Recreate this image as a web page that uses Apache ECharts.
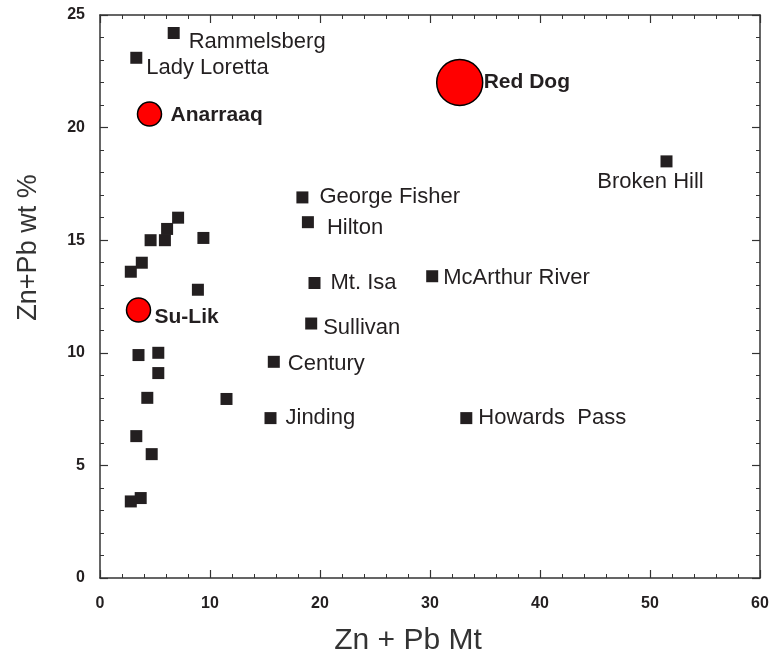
<!DOCTYPE html>
<html>
<head>
<meta charset="utf-8">
<script src="https://cdn.jsdelivr.net/npm/echarts@6/dist/echarts.min.js"></script>
<style>html,body{margin:0;padding:0;background:#fff}#c{width:779px;height:662px}</style>
</head>
<body>
<div id="c"></div>
<script>
// Squares (named deposits)
var sqNames = ['Rammelsberg','Lady Loretta','Broken Hill','George Fisher','Hilton','Mt. Isa','McArthur River','Sullivan','Century','Jinding','Howards  Pass'];
var sqX = [6.7, 3.3, 51.5, 18.4, 18.9, 19.5, 30.2, 19.2, 15.8, 15.5, 33.3];
var sqY = [24.2, 23.1, 18.5, 16.9, 15.8, 13.1, 13.4, 11.3, 9.6, 7.1, 7.1];
// Unlabelled squares
var unX = [7.1, 6.1, 5.9, 4.6, 9.4, 3.8, 2.8, 8.9, 3.5, 5.3, 5.3, 4.3, 11.5, 3.3, 4.7, 3.7, 2.8];
var unY = [16.0, 15.5, 15.0, 15.0, 15.1, 14.0, 13.6, 12.8, 9.9, 10.0, 9.1, 8.0, 7.95, 6.3, 5.5, 3.55, 3.4];
// Red circles
var ciNames = ['Red Dog','Anarraaq','Su-Lik'];
var ciX = [32.7, 4.5, 3.5];
var ciY = [22.0, 20.6, 11.9];
// Axis ticks
var xTicks = [0, 10, 20, 30, 40, 50, 60];
var yTicks = [0, 5, 10, 15, 20, 25];

// styles (label offsets relative to marker centre, marker sizes)
var labelOffset = {
  'Rammelsberg':[15,9], 'Lady Loretta':[10,10], 'George Fisher':[17,0], 'Hilton':[19,6],
  'Mt. Isa':[16,0], 'McArthur River':[11,2], 'Sullivan':[12,4], 'Century':[14,2],
  'Jinding':[15,0], 'Howards  Pass':[12,0], 'Red Dog':[24,0], 'Anarraaq':[21,1], 'Su-Lik':[16,7]
};
var circleSize = {'Red Dog':46, 'Anarraaq':24, 'Su-Lik':24};

var FONT = 'Liberation Sans, Arial, Helvetica, sans-serif';
var TXT = '#231f20';

var sqData = sqNames.map(function(n,i){
  var item = {name:n, value:[sqX[i], sqY[i]]};
  if (n === 'Broken Hill') {
    item.label = {show:true, position:'inside', align:'center', verticalAlign:'middle', offset:[-16,21]};
  } else {
    item.label = {show:true, position:'inside', align:'left', verticalAlign:'middle', offset:labelOffset[n]};
  }
  return item;
});
var unData = unX.map(function(x,i){ return [x, unY[i]]; });
var ciData = ciNames.map(function(n,i){
  return {name:n, value:[ciX[i], ciY[i]], symbolSize:circleSize[n],
    label:{show:true, position:'inside', align:'left', verticalAlign:'middle', offset:labelOffset[n]}};
});

function axisCommon(showLabel, isX){
  return {
    type:'value', min: 0, max: isX ? 60 : 25, interval: isX ? 10 : 5,
    axisLine:{show:true, onZero:false, lineStyle:{color:'#333', width:1.5}},
    axisTick:{show:true, inside:true, length:8, lineStyle:{color:'#333', width:1.2}},
    minorTick:{show:true, splitNumber:5, length:4, lineStyle:{color:'#333', width:1}},
    splitLine:{show:false},
    axisLabel:{show:showLabel, fontFamily:FONT, fontWeight:'bold', fontSize:16, color:TXT,
      margin: isX ? 18 : 15,
      formatter:function(v){ return (isX ? xTicks : yTicks).indexOf(v) >= 0 ? String(v) : ''; }}
  };
}

var xb = axisCommon(true, true);
xb.position = 'bottom';
xb.name = 'Zn + Pb Mt';
xb.nameLocation = 'middle';
xb.nameGap = 48;
xb.nameTextStyle = {fontFamily:FONT, fontSize:30, color:'#333', padding:[0,44,0,0]};
var xt = axisCommon(false, true);
xt.position = 'top';
var yl = axisCommon(true, false);
yl.position = 'left';
yl.name = 'Zn+Pb wt %';
yl.nameLocation = 'middle';
yl.nameGap = 58;
yl.nameTextStyle = {fontFamily:FONT, fontSize:27, color:'#333', padding:[0,0,0,98]};
var yr = axisCommon(false, false);
yr.position = 'right';

var labelStyle = {fontFamily:FONT, fontSize:22, color:TXT, formatter:'{b}'};

var option = {
  backgroundColor:'#fff',
  animation:false,
  grid:{left:100, right:19, top:15, bottom:84, containLabel:false},
  xAxis:[xb, xt],
  yAxis:[yl, yr],
  series:[
    {type:'scatter', xAxisIndex:0, yAxisIndex:0, symbol:'rect', symbolSize:12, data:unData,
      itemStyle:{color:TXT, opacity:1}, silent:true},
    {type:'scatter', xAxisIndex:0, yAxisIndex:0, symbol:'rect', symbolSize:12, data:sqData,
      itemStyle:{color:TXT, opacity:1}, label:labelStyle},
    {type:'scatter', xAxisIndex:0, yAxisIndex:0, symbol:'circle', data:ciData,
      itemStyle:{color:'#ff0000', borderColor:'#000', borderWidth:1.5, opacity:1},
      label:{fontFamily:FONT, fontSize:21, fontWeight:'bold', color:TXT, formatter:'{b}'}}
  ]
};
var chart = echarts.init(document.getElementById('c'), null, {renderer:'canvas'});
chart.setOption(option);
</script>
</body>
</html>
